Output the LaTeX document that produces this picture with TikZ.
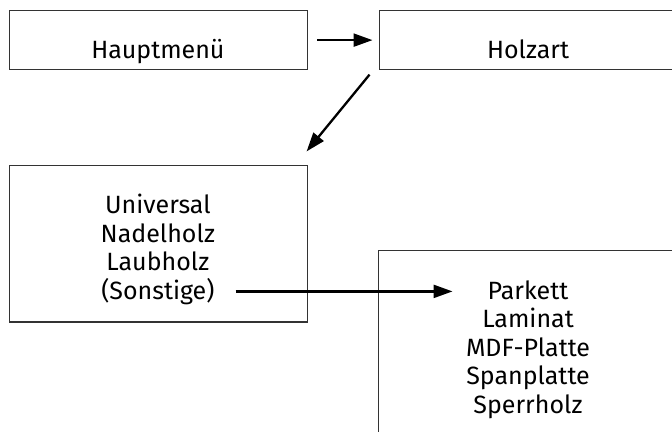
\documentclass[tikz,border=0pt]{standalone}
\usepackage{fontspec}
\setmainfont{Fira Sans}
\usetikzlibrary{arrows.meta}
\begin{document}
\begin{tikzpicture}[
	kasten/.style={draw=black!80, line width=1.2pt, minimum width=10.49cm, inner sep=0pt},
	wort/.style={inner sep=0pt, anchor=base, font=\fontsize{25}{30}\selectfont},
	pfeil/.style={line width=2.3pt, -{Triangle[length=19pt,width=13pt]}}]
	\useasboundingbox (0,0) rectangle (23.62,-15.18);
	\node[kasten, minimum height=2.07cm] (haupt) at (5.57,-1.41) {};
	\node[kasten, minimum height=2.07cm] (holz) at (18.57,-1.41) {};
	\node[kasten, minimum height=5.49cm] (sorten) at (5.57,-8.57) {};
	\node[kasten, minimum height=6.65cm] (platten) at (18.55,-12.14) {};
	\node[wort] (thaupt) at (5.55,-2.05) {Hauptmenü};
	\node[wort] (tholz) at (18.56,-2.05) {Holzart};
	\node[wort] (univ) at (5.55,-7.52) {Universal};
	\node[wort] (nadel) at (5.55,-8.52) {Nadelholz};
	\node[wort] (laub) at (5.55,-9.52) {Laubholz};
	\node[wort] (sonst) at (5.55,-10.52) {(Sonstige)};
	\node[wort] (park) at (18.56,-10.52) {Parkett};
	\node[wort] (lami) at (18.56,-11.52) {Laminat};
	\node[wort] (mdf) at (18.56,-12.52) {MDF-Platte};
	\node[wort] (span) at (18.56,-13.52) {Spanplatte};
	\node[wort] (sperr) at (18.56,-14.52) {Sperrholz};
	\draw[pfeil] ([xshift=9pt]haupt.east) -- ([xshift=-6pt]holz.west);
	\draw[pfeil] ([shift={(-9pt,-4.5pt)}]holz.south west) -- ([shift={(-1.7pt,13.7pt)}]sorten.north east);
	\draw[pfeil] ([xshift=21pt]sonst.east) -- ([xshift=-35pt]sonst.east -| park.west);
\end{tikzpicture}
\end{document}
